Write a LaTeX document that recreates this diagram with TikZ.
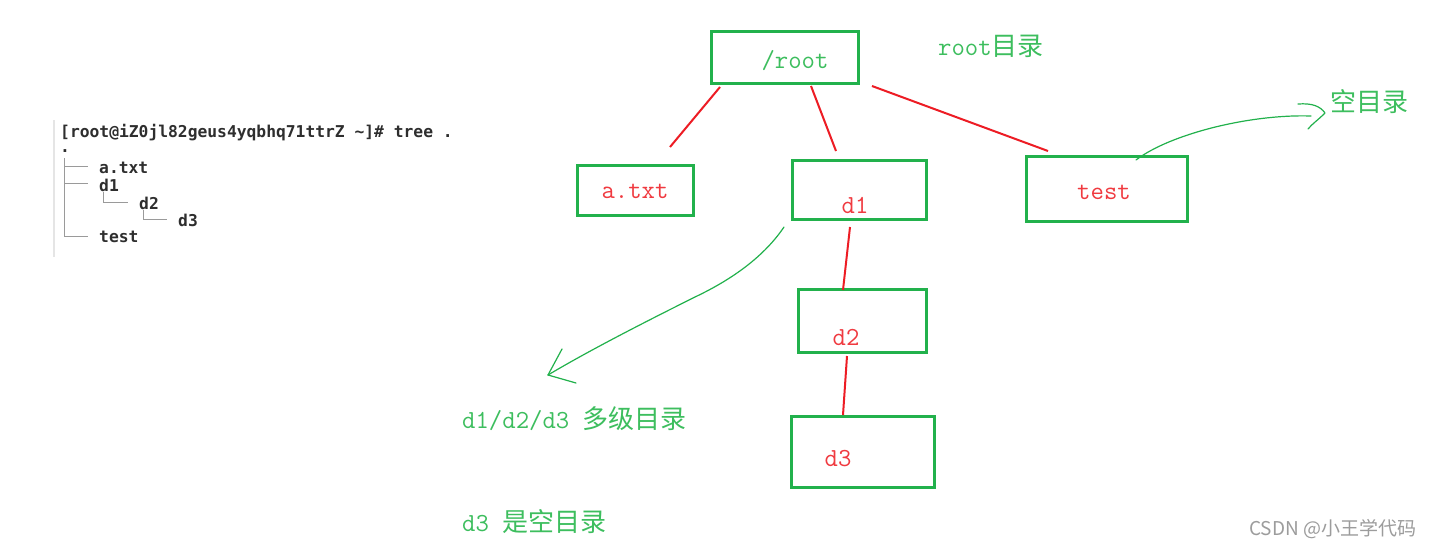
\documentclass[tikz,border=0pt]{standalone}
\usepackage{fontspec}
\newfontfamily\cjk{Noto Sans CJK SC}
\newfontfamily\term{DejaVu Sans Mono}
\usetikzlibrary{calc}
\definecolor{pgreen}{HTML}{22B14C}
\definecolor{tgreen}{HTML}{3DBE5E}
\definecolor{pred}{HTML}{ED1C24}
\definecolor{tred}{HTML}{F03A40}
\definecolor{termgray}{HTML}{2E2E2E}
\definecolor{treegray}{HTML}{9A9A9A}
\definecolor{wmgray}{HTML}{9C9C9C}
\begin{document}
\begin{tikzpicture}[x=1pt,y=-1pt,
  dirbox/.style={draw=pgreen, line width=3pt, rectangle, inner sep=0pt, outer sep=0pt},
  redline/.style={draw=pred, line width=2pt},
  greenline/.style={draw=pgreen, line width=1.2pt, line cap=round, line join=round},
  boxtext/.style={text=tred, font=\fontsize{26}{26}\selectfont\ttfamily, inner sep=0pt},
  note/.style={text=tgreen, font=\fontsize{26}{26}\selectfont\ttfamily, inner sep=0pt, anchor=west},
  termtext/.style={font=\fontsize{16.3}{16}\selectfont\term\bfseries, text=termgray, anchor=west, inner sep=0pt},
  treeline/.style={draw=treegray, line width=1pt},
  wm/.style={text=wmgray, font=\fontsize{19}{19}\selectfont\cjk, inner sep=0pt, anchor=west}]
\useasboundingbox[fill=white] (0,0) rectangle (1434,550);

% ---------- terminal output ----------
\draw[draw=gray!20, line width=1.2pt] (54,120) -- (54,257);
\node[termtext] (cmd) at (60,133) {[root@iZ0jl82geus4yqbhq71ttrZ \textasciitilde]\# tree .};
\node[termtext] (dot) at (60,151) {.};
\node[termtext] (ta) at (99,168) {a.txt};
\node[termtext] (td1) at (99,185) {d1};
\node[termtext] (td2) at (139,203) {d2};
\node[termtext] (td3) at (178,220) {d3};
\node[termtext] (ttest) at (99,237) {test};
\draw[treeline] (64,158) -- (64,236) -- (88,236);
\draw[treeline] (64,166) -- (88,166);
\draw[treeline] (64,183) -- (88,183);
\draw[treeline] (103,192) -- (103,202) -- (128,202);
\draw[treeline] (143,210) -- (143,219) -- (167,219);

% ---------- boxes ----------
\node[dirbox, minimum width=147pt, minimum height=52pt] (root) at (784.5,57) {};
\node[dirbox, minimum width=116pt, minimum height=50pt] (atxt) at (635,190) {};
\node[dirbox, minimum width=134pt, minimum height=59pt] (d1) at (859,189.5) {};
\node[dirbox, minimum width=161pt, minimum height=65pt] (test) at (1106.5,188.5) {};
\node[dirbox, minimum width=128pt, minimum height=63pt] (d2) at (862,320.5) {};
\node[dirbox, minimum width=143pt, minimum height=71pt] (d3) at (862.5,451.5) {};

\node[boxtext, text=tgreen] (rootlbl) at (795,61) {/root};
\node[boxtext] (atxtlbl) at (635,191) {a.txt};
\node[boxtext] (d1lbl) at (855,205) {d1};
\node[boxtext] (testlbl) at (1104,192) {test};
\node[boxtext] (d2lbl) at (846,337) {d2};
\node[boxtext] (d3lbl) at (838,459) {d3};

% ---------- red connectors ----------
\draw[redline] ([shift={(9,4)}]root.south west) -- ([shift={(93,-18)}]atxt.north west);
\draw[redline] ([shift={(100,3)}]root.south west) -- ([shift={(44,-9)}]d1.north west);
\draw[redline] ([shift={(14,3)}]root.south east) -- ([shift={(22,-5)}]test.north west);
\draw[redline] ([shift={(58,8)}]d1.south west) -- ([shift={(45,1)}]d2.north west);
\draw[redline] ([shift={(49,4)}]d2.south west) -- ([shift={(52,-1)}]d3.north west);

% ---------- green notes ----------
\node[note] (rootnote) at (938,46) {root{\cjk 目录}};
\node[note] (emptynote) at (1330,102) {{\cjk 空目录}};
\node[note] (multinote) at (462,419) {d1/d2/d3 {\cjk 多级目录}};
\node[note] (d3note) at (462,522) {d3 {\cjk 是空目录}};

% ---------- green arrows ----------
\coordinate (d1s) at ([shift={(-8,8)}]d1.south west);
\coordinate (tip1) at (548,375);
\draw[greenline] (d1s) .. controls (765,255) and (735,278) .. (695,297)
  .. controls (645,322) and (590,350) .. (tip1);
\draw[greenline] (562,349) -- (tip1) -- (576,383);

\coordinate (tests) at ([shift={(110,4)}]test.north west);
\coordinate (tip2) at (1325,113);
\draw[greenline] (tests) .. controls (1170,134) and (1250,114) .. (1311,116);
\draw[greenline] (1298,104) .. controls (1312,103) and (1320,106) .. (tip2) .. controls (1318,120) and (1312,124) .. (1308,129);

% ---------- watermark ----------
\node[wm] (mark) at (1249,529) {CSDN @小王学代码};
\end{tikzpicture}
\end{document}
